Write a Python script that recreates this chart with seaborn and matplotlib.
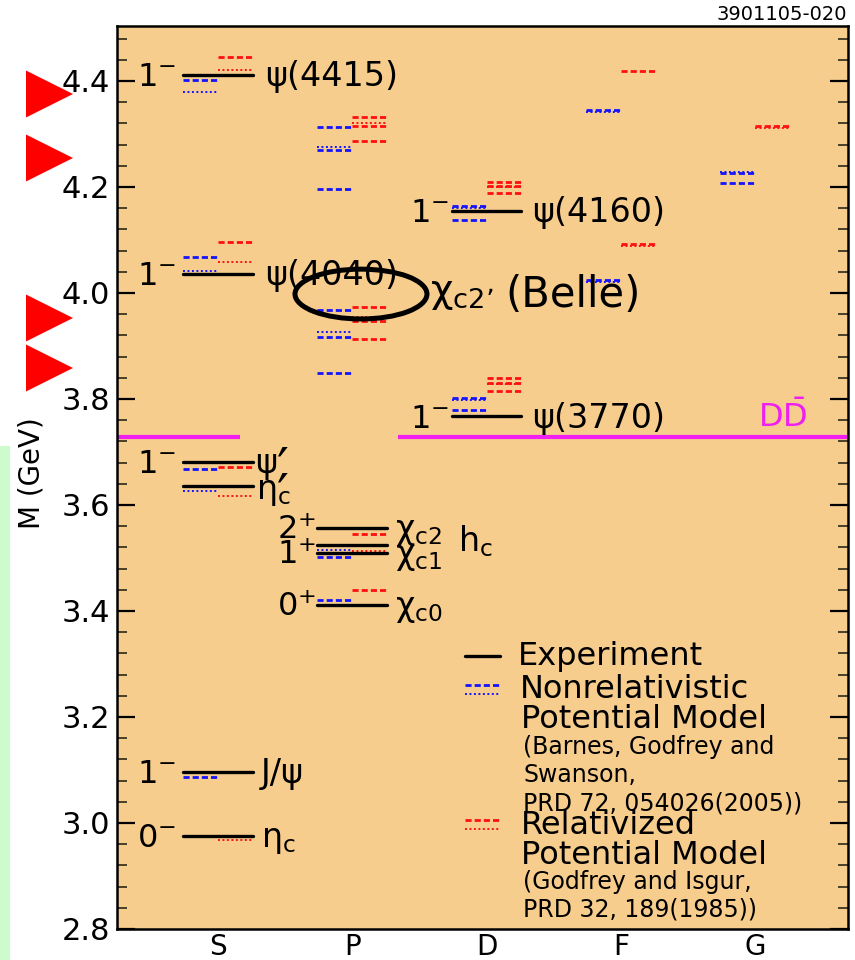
import matplotlib
matplotlib.use("Agg")
import matplotlib.pyplot as plt
from matplotlib.patches import Ellipse, Polygon, Rectangle
import numpy as np
import pandas as pd
import seaborn as sns

sns.set_style("ticks")
plt.rcParams["font.family"] = ["DejaVu Sans"]
plt.rcParams["mathtext.fontset"] = "dejavusans"
plt.rcParams["mathtext.default"] = "regular"
for key in ("text.color", "axes.labelcolor", "xtick.color", "ytick.color"):
    plt.rcParams[key] = "black"

# ---------------------------------------------------------------- data
columns = ["S", "P", "D", "F", "G"]
mass_ticks = [2.8, 3.0, 3.2, 3.4, 3.6, 3.8, 4.0, 4.2, 4.4]

# measured charmonium states (GeV)
exp_col = ["S", "S", "S", "S", "S", "S", "P", "P", "P", "P", "D", "D"]
exp_mass = [4.412, 4.036, 3.682, 3.635, 3.097, 2.976,
            3.556, 3.524, 3.510, 3.411, 4.155, 3.767]
exp_name = ["ψ(4415)", "ψ(4040)", "ψ′", r"$η′_{c}$", "J/ψ", r"$η_{c}$",
            r"$χ_{c2}$", r"$h_{c}$", r"$χ_{c1}$", r"$χ_{c0}$", "ψ(4160)", "ψ(3770)"]
exp_jp = [r"$1^{-}$", r"$1^{-}$", r"$1^{-}$", "", r"$1^{-}$", r"$0^{-}$",
          r"$2^{+}$", "", r"$1^{+}$", r"$0^{+}$", r"$1^{-}$", r"$1^{-}$"]

# nonrelativistic potential model (Barnes, Godfrey, Swanson)
nr_col = (["S"] * 8 + ["P"] * 12 + ["D"] * 6 + ["F"] * 4 + ["G"] * 3)
nr_mass = [4.402, 4.380, 4.068, 4.041, 3.668, 3.626, 3.087, 2.976,
           4.313, 4.276, 4.270, 4.197, 3.968, 3.926, 3.917, 3.849, 3.556, 3.515, 3.501, 3.420,
           4.165, 4.160, 4.138, 3.801, 3.798, 3.779,
           4.345, 4.342, 4.024, 4.021,
           4.229, 4.226, 4.207]
nr_kind = ["dashed", "dotted", "dashed", "dotted", "dashed", "dotted", "dashed", "dotted",
           "dashed", "dotted", "dashed", "dashed", "dashed", "dotted", "dashed", "dashed",
           "dashed", "dotted", "dashed", "dashed",
           "dashed", "dotted", "dashed", "dashed", "dotted", "dashed",
           "dashed", "dotted", "dashed", "dotted",
           "dotted", "dashed", "dashed"]

# relativized potential model (Godfrey, Isgur)
rel_col = (["S"] * 8 + ["P"] * 12 + ["D"] * 8 + ["F"] * 3 + ["G"] * 2)
rel_mass = [4.446, 4.421, 4.097, 4.059, 3.672, 3.617, 3.097, 2.968,
            4.333, 4.321, 4.315, 4.287, 3.973, 3.954, 3.948, 3.913, 3.546, 3.514, 3.510, 3.440,
            4.210, 4.202, 4.200, 4.188, 3.839, 3.830, 3.828, 3.815,
            4.419, 4.092, 4.089,
            4.315, 4.311]
rel_kind = ["dashed", "dotted", "dashed", "dotted", "dashed", "dotted", "dashed", "dotted",
            "dashed", "dotted", "dashed", "dashed", "dashed", "dotted", "dashed", "dashed",
            "dashed", "dotted", "dashed", "dashed",
            "dashed", "dashed", "dotted", "dashed", "dashed", "dashed", "dotted", "dashed",
            "dashed", "dashed", "dotted",
            "dashed", "dotted"]

dd_threshold = 3.729
belle_mass = 3.998

# ---------------------------------------------------------------- styling
HW = 0.26            # half width of a level in category units
BLUE, RED, MAGENTA = "#1414ff", "#ff1010", "#f01ef0"
FACE = "#f7cd8e"
DASHES = {"dashed": (2.2, 1.1), "dotted": (1.0, 1.3), "solid": ""}
SIZES = {"dashed": 2.0, "dotted": 1.4, "solid": 2.4}


def level_frame(cols, masses, kinds, model, x0, x1):
    rows = []
    for i, (c, m, k) in enumerate(zip(cols, masses, kinds)):
        xc = columns.index(c)
        rows.append(dict(uid=f"{model}{i}", x=xc + x0, M=m, kind=k, model=model))
        rows.append(dict(uid=f"{model}{i}", x=xc + x1, M=m, kind=k, model=model))
    return pd.DataFrame(rows)


theory = pd.concat([
    level_frame(nr_col, nr_mass, nr_kind, "nr", -HW, 0.0),
    level_frame(rel_col, rel_mass, rel_kind, "rel", 0.0, HW),
], ignore_index=True)
experiment = level_frame(exp_col, exp_mass, ["solid"] * len(exp_mass), "exp", -HW, HW)

W, H = 855, 960
fig = plt.figure(figsize=(W / 100, H / 100), dpi=100)
fig.patch.set_facecolor("white")
AX_L, AX_R, AX_T, AX_B = 117, 848, 26, 929
ax = fig.add_axes([AX_L / W, 1 - AX_B / H, (AX_R - AX_L) / W, (AX_B - AX_T) / H])
ax.set_facecolor(FACE)

# green strip and red markers in the left margin
fig.add_artist(Rectangle((0, 0), 10 / W, 1 - 446 / H, transform=fig.transFigure,
                         color="#ccfccc", lw=0, zorder=0))
for tip in (94, 158, 318, 368):
    pts = [(26 / W, 1 - (tip - 23.5) / H), (26 / W, 1 - (tip + 23.5) / H), (73 / W, 1 - tip / H)]
    fig.add_artist(Polygon(pts, closed=True, transform=fig.transFigure,
                           color="#ff0000", lw=0, zorder=5))

sns.lineplot(data=theory, x="x", y="M", units="uid", estimator=None, sort=False,
             hue="model", palette={"nr": BLUE, "rel": RED},
             style="kind", dashes=DASHES, size="kind", sizes=SIZES,
             legend=False, ax=ax, zorder=2)
sns.lineplot(data=experiment, x="x", y="M", units="uid", estimator=None, sort=False,
             color="black", lw=2.4, legend=False, ax=ax, zorder=3)

# DD-bar threshold
ax.plot([-0.76, 0.164], [dd_threshold, dd_threshold], color=MAGENTA, lw=3, zorder=2,
        solid_capstyle="butt")
ax.plot([1.341, 4.7], [dd_threshold, dd_threshold], color=MAGENTA, lw=3, zorder=2,
        solid_capstyle="butt")
ax.text(4.21, dd_threshold + 0.005, r"$D\bar{D}$", color=MAGENTA, fontsize=23,
        ha="center", va="bottom")

XLIM = ((AX_L - 218) / 134.25, (AX_R - 218) / 134.25)
ax.set_xlim(*XLIM)
ax.set_ylim(2.8, 2.8 + (AX_B - AX_T) / 530)

# level labels
FS_NAME, FS_JP = 24, 23
name_dx = {"S": 0.35, "P": 0.32, "D": 0.343}
jp_dx = {"S": -0.31, "P": -0.27, "D": -0.276}
name_shift = {r"$η′_{c}$": (-0.07, -0.002), r"$h_{c}$": (0.468, 0.009),
              "ψ′": (-0.07, 0.0), "J/ψ": (-0.03, 0.0), r"$η_{c}$": (-0.03, 0.0)}
for c, m, nm, jp in zip(exp_col, exp_mass, exp_name, exp_jp):
    xc = columns.index(c)
    dx, dy = name_shift.get(nm, (0.0, 0.0))
    x, y = xc + name_dx[c] + dx, m - 0.021 + dy
    if "′" in nm:
        # the radial-excitation prime is drawn larger than the font's own glyph
        ax.text(x, y, nm.replace("′", ""), fontsize=FS_NAME, ha="left", va="baseline",
                zorder=4)
        ax.annotate("′", xy=(x, y), xytext=(15.5, -9), textcoords="offset points",
                    fontsize=38, ha="left", va="baseline", zorder=4)
    else:
        ax.text(x, y, nm, fontsize=FS_NAME, ha="left", va="baseline", zorder=4)
    if jp:
        ax.text(xc + jp_dx[c], m - 0.021, jp, fontsize=FS_JP, ha="right", va="baseline",
                zorder=4)

# highlighted Belle candidate
ax.add_patch(Ellipse((1.065, belle_mass), width=0.983, height=0.094, fill=False,
                     ec="black", lw=3.6, zorder=6))
ax.text(1.58, belle_mass - 0.015, r"$χ_{c2’}$", fontsize=28, ha="left", va="baseline")
ax.text(2.14, belle_mass - 0.025, "(Belle)", fontsize=30, ha="left", va="baseline")

# legend
def axf(px, py):
    return (px - AX_L) / (AX_R - AX_L), (AX_B - py) / (AX_B - AX_T)

key_x = [axf(465, 0)[0], axf(500, 0)[0]]
ax.plot(key_x, [axf(0, 656)[1]] * 2, color="black", lw=2.4, transform=ax.transAxes)
ax.plot(key_x, [axf(0, 685)[1]] * 2, color=BLUE, lw=2.0, dashes=DASHES["dashed"],
        transform=ax.transAxes)
ax.plot(key_x, [axf(0, 694)[1]] * 2, color=BLUE, lw=1.4, dashes=DASHES["dotted"],
        transform=ax.transAxes)
ax.plot(key_x, [axf(0, 820)[1]] * 2, color=RED, lw=2.0, dashes=DASHES["dashed"],
        transform=ax.transAxes)
ax.plot(key_x, [axf(0, 829)[1]] * 2, color=RED, lw=1.4, dashes=DASHES["dotted"],
        transform=ax.transAxes)
legend_lines = [("Experiment", 518, 656, 23), ("Nonrelativistic", 520, 690, 23),
                ("Potential Model", 521, 720, 23), ("(Barnes, Godfrey and", 523, 747, 17),
                ("Swanson,", 523, 775, 17), ("PRD 72, 054026(2005))", 523, 803, 17),
                ("Relativized", 521, 826, 23), ("Potential Model", 521, 856, 23),
                ("(Godfrey and Isgur,", 523, 882, 17), ("PRD 32, 189(1985))", 523, 910, 17)]
for txt, px, py, fs in legend_lines:
    ax.text(*axf(px, py), txt, fontsize=fs, ha="left", va="center", transform=ax.transAxes)

# axes decoration
ax.set_xticks(range(len(columns)))
ax.set_xticklabels(columns)
ax.set_yticks(mass_ticks)
ax.set_yticklabels([f"{t:.1f}" for t in mass_ticks])
ax.set_yticks(np.arange(2.8, 4.52, 0.04), minor=True)
ax.tick_params(axis="y", which="both", direction="in", left=True, right=True,
               labelsize=22, pad=5, colors="black")
ax.tick_params(axis="y", which="major", length=13, width=1.6)
ax.tick_params(axis="y", which="minor", length=7, width=1.3, color="#3a3520")
ax.tick_params(axis="x", which="both", length=0, labelsize=20, pad=3)
ax.set_xlabel("")
ax.set_ylabel("M (GeV)", fontsize=20)
ax.yaxis.set_label_coords(axf(45, 0)[0], axf(0, 473)[1])
for sp in ax.spines.values():
    sp.set_linewidth(1.8)
    sp.set_color("black")

fig.text(847 / W, 1 - 15 / H, "3901105-020", fontsize=14, ha="right", va="center")

fig.savefig("out.png", dpi=100, facecolor="white")
